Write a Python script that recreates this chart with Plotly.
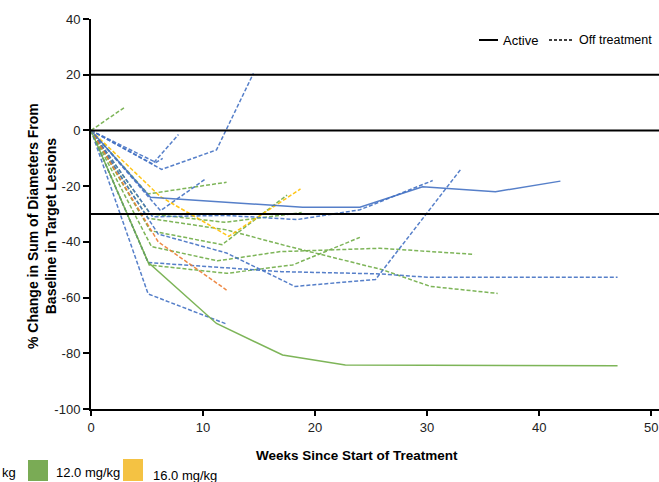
import plotly.graph_objects as go

# ---- data (weeks, % change) ----
blue_active_x = [0, 5.3, 18.9, 24, 29.6, 36.1, 41.9]
blue_active_y = [0, -24, -27.6, -27.6, -20.2, -22, -18.2]

blue_off = [
    ([0, 5.5, 7.8], [0, -12, -1.5]),
    ([0, 6.3, 11.2, 14.5], [0, -14, -7, 20.5]),
    ([0, 5.8, 6.4], [0, -11.5, -10]),
    ([0, 6.2, 10.2], [0, -28.8, -17.5]),
    ([0, 5.5, 12, 18.4, 24, 30.5], [0, -31, -30.5, -32, -28.5, -18]),
    ([0, 6, 12.1, 18.2, 25.4, 33], [0, -37.2, -44, -56, -53.5, -14]),
    ([0, 5.1, 17, 25.8, 30, 47], [0, -47.4, -50.7, -51.5, -52.7, -52.7]),
    ([0, 5.1, 12.1], [0, -58.7, -69.5]),
]

orange_off = [([0, 6, 12.1], [0, -40, -57.3])]

yellow_off = [([0, 6.2, 12.3, 18.7], [0, -23.8, -38, -21])]

green_active_x = [0, 5.1, 11.2, 17.1, 22.7, 47]
green_active_y = [0, -47.3, -69.3, -80.6, -84.2, -84.5]

green_off = [
    ([0, 3], [0, 8.3]),
    ([0, 5.1, 12.1], [0, -22.8, -18.6]),
    ([0, 5.3, 11.7, 17.5], [0, -36, -41, -23.2]),
    ([0, 5.4, 11.3, 16.9, 25.8, 34.2], [0, -41.7, -46.8, -43.5, -42.3, -44.5]),
    ([0, 5.2, 12.1, 18, 24], [0, -48.3, -51.3, -48.3, -38.4]),
    ([0, 5.1, 12.1, 17.5, 26, 30.3, 36.3], [0, -31.5, -35.7, -41.5, -50, -56, -58.5]),
    ([0, 5.3, 12, 18.8], [0, -30, -33, -29.5]),
]

ref_lines = [20, 0, -30]
x_ticks = [0, 10, 20, 30, 40, 50]
y_ticks = [40, 20, 0, -20, -40, -60, -80, -100]
y_tick_text = ["40", "20", "0", "-20", "-40", "-60", "-80", "-100"]

BLUE = "#4472C4"
GREEN = "#70AD47"
ORANGE = "#ED7D31"
YELLOW = "#FFC000"
DASH = "4px,2px"

fig = go.Figure()

def add_line(x, y, color, dashed):
    fig.add_trace(go.Scatter(
        x=x, y=y, mode="lines", showlegend=False, hoverinfo="skip",
        line=dict(color=color, width=1.5, dash=DASH if dashed else "solid"),
        opacity=0.9,
    ))

for x, y in green_off:
    add_line(x, y, GREEN, True)
for x, y in blue_off:
    add_line(x, y, BLUE, True)
for x, y in orange_off:
    add_line(x, y, ORANGE, True)
for x, y in yellow_off:
    add_line(x, y, YELLOW, True)
add_line(green_active_x, green_active_y, GREEN, False)
add_line(blue_active_x, blue_active_y, BLUE, False)

for v in ref_lines:
    fig.add_shape(type="line", xref="paper", x0=0, x1=1, yref="y", y0=v, y1=v,
                  line=dict(color="black", width=2))

FONT = "Arial, Liberation Sans, sans-serif"

def px_x(px):
    return (px - 91) / 568

def px_y(py):
    return (409 - py) / 390

# top-right legend (line style)
fig.add_shape(type="line", xref="paper", yref="paper",
              x0=px_x(479), x1=px_x(498), y0=px_y(40), y1=px_y(40),
              line=dict(color="black", width=2))
fig.add_annotation(text="Active", xref="paper", yref="paper",
                   x=px_x(501), y=px_y(40), xanchor="left", yanchor="middle",
                   showarrow=False, font=dict(family=FONT, size=13, color="black"))
fig.add_shape(type="line", xref="paper", yref="paper",
              x0=px_x(549), x1=px_x(573), y0=px_y(40), y1=px_y(40),
              line=dict(color="black", width=1.5, dash="3px,2px"))
fig.add_annotation(text="Off treatment", xref="paper", yref="paper",
                   x=px_x(577), y=px_y(40), xanchor="left", yanchor="middle",
                   showarrow=False, font=dict(family=FONT, size=12.5, color="black"))

# bottom legend (dose colours), partially cropped in the original
fig.add_annotation(text="kg", xref="paper", yref="paper", x=px_x(0), y=px_y(472),
                   xanchor="left", yanchor="middle", showarrow=False,
                   font=dict(family=FONT, size=13, color="black"))
fig.add_shape(type="rect", xref="paper", yref="paper",
              x0=px_x(28), x1=px_x(48), y0=px_y(481), y1=px_y(460),
              fillcolor="#7AAB55", line=dict(width=0))
fig.add_annotation(text="12.0 mg/kg", xref="paper", yref="paper", x=px_x(54), y=px_y(472),
                   xanchor="left", yanchor="middle", showarrow=False,
                   font=dict(family=FONT, size=13, color="black"))
fig.add_shape(type="rect", xref="paper", yref="paper",
              x0=px_x(123), x1=px_x(143), y0=px_y(481), y1=px_y(459),
              fillcolor="#F4C243", line=dict(width=0))
fig.add_annotation(text="16.0 mg/kg", xref="paper", yref="paper", x=px_x(151), y=px_y(475),
                   xanchor="left", yanchor="middle", showarrow=False,
                   font=dict(family=FONT, size=13, color="black"))

# axis titles
fig.add_annotation(text="<b>% Change in Sum of Diameters From<br>Baseline in Target Lesions</b>",
                   xref="paper", yref="paper", x=px_x(42), y=px_y(226),
                   xanchor="center", yanchor="middle", textangle=-90, showarrow=False,
                   font=dict(family=FONT, size=14, color="black"))
fig.add_annotation(text="<b>Weeks Since Start of Treatment</b>",
                   xref="paper", yref="paper", x=px_x(357), y=px_y(455),
                   xanchor="center", yanchor="middle", showarrow=False,
                   font=dict(family=FONT, size=13.5, color="black"))

fig.update_layout(
    width=659, height=482,
    margin=dict(l=91, r=0, t=19, b=73),
    paper_bgcolor="white", plot_bgcolor="white",
    font=dict(family=FONT, size=12, color="#222"),
    xaxis=dict(range=[0, 50.7], tickvals=x_ticks, showgrid=False, zeroline=False,
               showline=True, linecolor="black", linewidth=2, ticks="outside",
               ticklen=5, tickcolor="black", tickwidth=1.5,
               tickfont=dict(size=13, color="#222")),
    yaxis=dict(range=[-100, 40], tickvals=y_ticks, ticktext=y_tick_text,
               showgrid=False, zeroline=False,
               showline=True, linecolor="black", linewidth=2, ticks="outside",
               ticklen=6, tickcolor="black", tickwidth=1.5,
               tickfont=dict(size=13, color="#222")),
)

fig.write_html("out.html")
